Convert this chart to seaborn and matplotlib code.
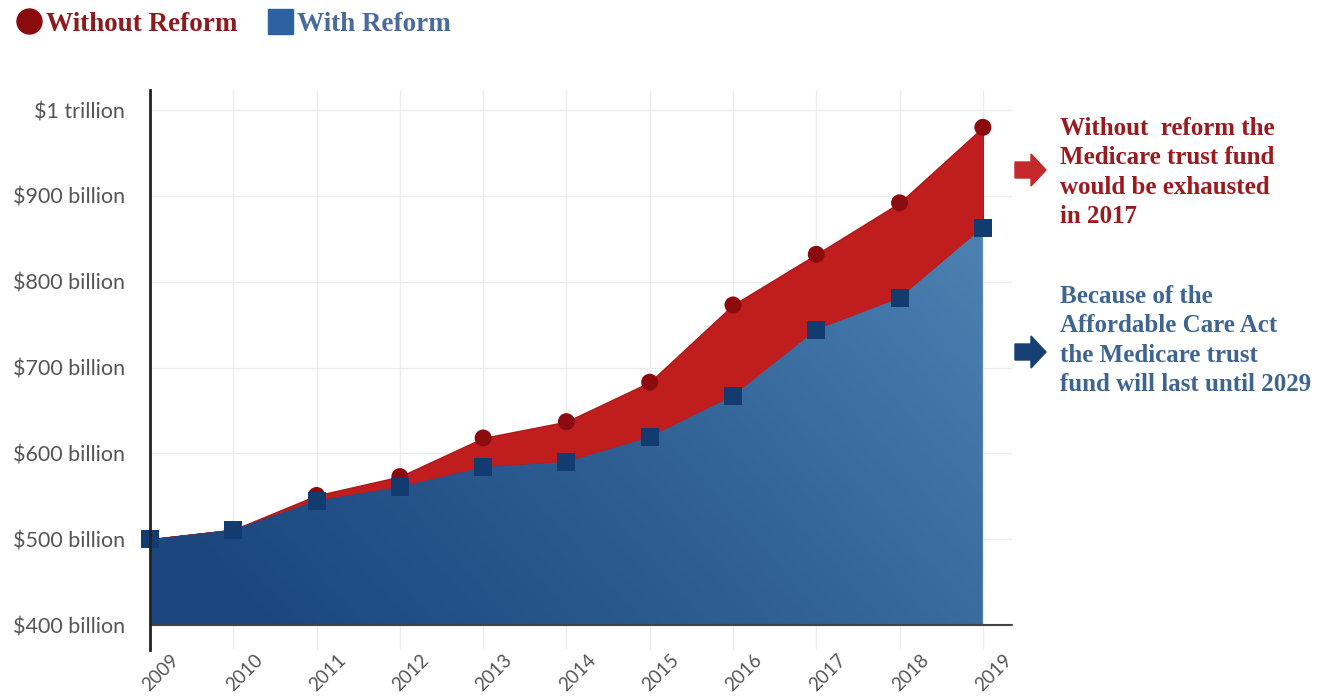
import numpy as np
import pandas as pd
import matplotlib
matplotlib.use("Agg")
import matplotlib.pyplot as plt
import matplotlib.patches as mpatches
from matplotlib.lines import Line2D
from matplotlib.colors import LinearSegmentedColormap
from matplotlib.transforms import ScaledTranslation
import seaborn as sns

# values in billions of dollars
years = [2009, 2010, 2011, 2012, 2013, 2014, 2015, 2016, 2017, 2018, 2019]
without_reform = [500, 511, 551, 573, 618, 637, 683, 773, 832, 892, 980]
with_reform = [500, 511, 545, 561, 584, 590, 619, 667, 744, 781, 863]
ytick_vals = [400, 500, 600, 700, 800, 900, 1000]
ytick_labels = ['$400 billion', '$500 billion', '$600 billion', '$700 billion',
                '$800 billion', '$900 billion', '$1 trillion']

df = pd.DataFrame({'year': years, 'without': without_reform, 'with': with_reform})

sns.set_style("white")
plt.rcParams['font.family'] = ['Lato', 'DejaVu Sans']

W, H = 1336, 696
fig = plt.figure(figsize=(W / 100, H / 100), dpi=100)
ax = fig.add_axes([150 / W, (H - 650) / H, 862 / W, 560 / H])

# grid
for v in ytick_vals[1:]:
    ax.axhline(v, color='#ececec', lw=1, zorder=0)
for yr in years:
    ax.axvline(yr, color='#ececec', lw=1, zorder=0)

# red band between the two series
ax.fill_between(df['year'], df['with'], df['without'], color='#c01d1e',
                edgecolor='#b01819', lw=1.0, zorder=2)

# blue area with gradient
poly = ax.fill_between(df['year'], 400, df['with'], color='none', lw=0, zorder=3)
cmap = LinearSegmentedColormap.from_list('blu', ['#1b477e', '#2f5f93', '#4a7fb0'])
gx, gy = np.meshgrid(np.linspace(0, 1, 300), np.linspace(0, 1, 200))
grad = 0.8 * gx + 0.35 * (1 - gy) - 0.1
img = ax.imshow(grad, extent=[2009, 2019, 400, 880], origin='upper', cmap=cmap,
                aspect='auto', vmin=0, vmax=1.0, zorder=3)
img.set_clip_path(poly.get_paths()[0], transform=ax.transData)
ax.set_xlim(2009, 2019.35)
ax.set_ylim(370.9, 1023.5)

# markers
sns.scatterplot(data=df, x='year', y='without', marker='o', s=150, color='#8c0b0e',
                edgecolor='none', ax=ax, zorder=5, clip_on=False)
sns.scatterplot(data=df, x='year', y='with', marker='s', s=170, color='#123c70',
                edgecolor='none', ax=ax, zorder=6, clip_on=False)

# axes lines
ax.plot([2009, 2019.35], [400, 400], color='#444444', lw=1.5, zorder=4, clip_on=False)
for s in ['top', 'right', 'bottom']:
    ax.spines[s].set_visible(False)
ax.spines['left'].set_color('#222222')
ax.spines['left'].set_linewidth(2)
ax.spines['left'].set_zorder(7)

ax.set_yticks(ytick_vals)
ax.set_yticklabels(ytick_labels, fontsize=15.5, color='#555555')
ax.set_xticks(years)
ax.set_xticklabels([str(y) for y in years], rotation=45, fontsize=13.5, color='#555555',
                   ha='center', va='top')
ax.tick_params(axis='y', length=0, pad=18)
ax.tick_params(axis='x', length=0, pad=1)
shift = ScaledTranslation(11 / 100, 0, fig.dpi_scale_trans)
for lab in ax.get_xticklabels():
    lab.set_transform(lab.get_transform() + shift)
ax.set_xlabel('')
ax.set_ylabel('')

# legend
serif = ['Liberation Serif', 'DejaVu Serif']
handles = [Line2D([], [], marker='o', ls='none', color='#8c0b0e', markersize=18),
           Line2D([], [], marker='s', ls='none', color='#2d62a0', markersize=18)]
leg = fig.legend(handles, ['Without Reform', 'With Reform'], loc='upper left',
                 bbox_to_anchor=(-0.009, 1.018), ncol=2, frameon=False,
                 prop={'family': serif, 'weight': 'bold', 'size': 19.5},
                 handletextpad=0.05, columnspacing=0.95, handlelength=1.2)
leg.get_texts()[0].set_color('#8c1a1f')
leg.get_texts()[1].set_color('#4a6a9c')

# annotations
def fx(px):
    return px / W

def fy(py):
    return (H - py) / H

fig.text(fx(1060), fy(117), 'Without  reform the\nMedicare trust fund\nwould be exhausted\nin 2017',
         family=serif, weight='bold', fontsize=18, color='#9a1a1f', va='top', ha='left',
         linespacing=1.35)
fig.text(fx(1060), fy(285), 'Because of the\nAffordable Care Act\nthe Medicare trust\nfund will last until 2029',
         family=serif, weight='bold', fontsize=18, color='#3e6592', va='top', ha='left',
         linespacing=1.35)

for ypix, col in [(170, '#c4282b'), (352, '#163f73')]:
    arr = mpatches.FancyArrow(fx(1015), fy(ypix), fx(16), 0, width=16 / H,
                              head_width=32 / H, head_length=fx(15),
                              length_includes_head=False, color=col,
                              transform=fig.transFigure)
    fig.add_artist(arr)

fig.savefig('out.png', dpi=100)
